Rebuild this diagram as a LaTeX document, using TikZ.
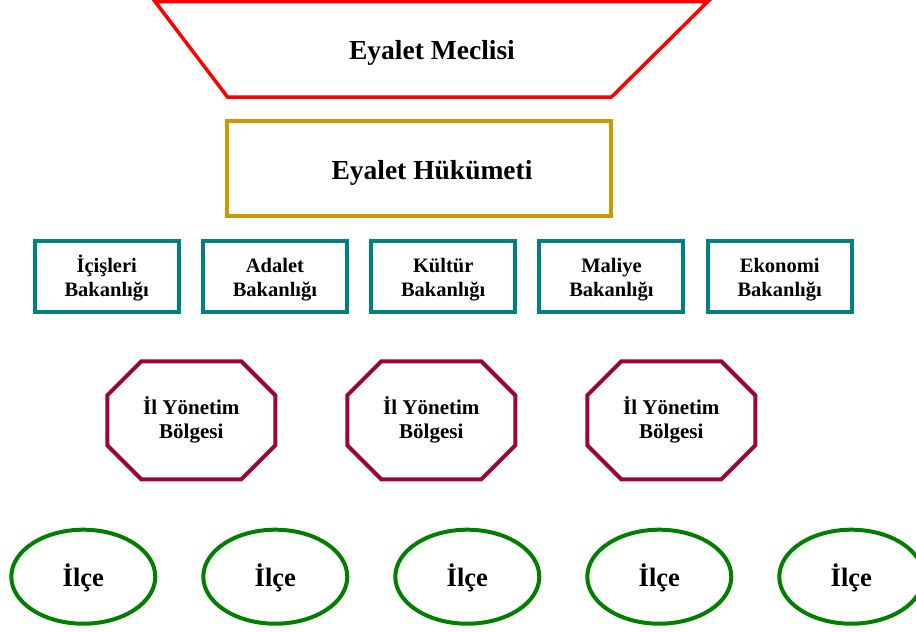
\documentclass[tikz,border=0pt]{standalone}
\usepackage{fontspec}
\setmainfont{Liberation Serif}
\usetikzlibrary{shapes.geometric}
\definecolor{meclisred}{HTML}{FF0000}
\definecolor{hukgold}{HTML}{CC9900}
\definecolor{bakteal}{HTML}{008080}
\definecolor{ilcrimson}{HTML}{A10038}
\definecolor{ilcegreen}{HTML}{008000}
\newcommand{\topstrut}[1]{\rule{0pt}{#1}}
\newcommand{\botstrut}[1]{\rule[-#1]{0pt}{#1}}
\begin{document}
\begin{tikzpicture}[x=1pt,y=-1pt,
  bigtext/.style={font=\bfseries\fontsize{27.5}{30}\selectfont, inner sep=0pt, anchor=base},
  bakbox/.style={draw=bakteal, line width=4pt, rectangle, minimum width=144pt, minimum height=70.7pt, inner sep=0pt, align=center, font=\bfseries\fontsize{20.5}{24}\selectfont},
  oktext/.style={inner sep=0pt, align=center, font=\bfseries\fontsize{21}{24}\selectfont},
  octline/.style={draw=ilcrimson, line width=4pt, line join=miter},
  ilcebox/.style={draw=ilcegreen, line width=4pt, ellipse, minimum width=144pt, minimum height=94pt, inner sep=0pt, font=\bfseries\fontsize{26.5}{30}\selectfont}
]
\useasboundingbox[fill=white] (0,0) rectangle (916,632);

% Eyalet Meclisi (trapezoid)
\coordinate (mTL) at (155,1.5);
\coordinate (mTR) at (708,1.5);
\coordinate (mBR) at (611.5,97);
\coordinate (mBL) at (227.5,97);
\draw[meclisred, line width=3.5pt] (mTL) -- (mTR) -- (mBR) -- (mBL) -- cycle;
\node[bigtext] (meclis) at (432,59.3) {Eyalet Meclisi};

% Eyalet Hukumeti
\node[draw=hukgold, line width=4pt, rectangle, minimum width=384pt, minimum height=95pt, inner sep=0pt] (hukumet) at (419.3,168.5) {};
\node[bigtext] (hukumettext) at (432,179) {Eyalet Hükümeti};

% Bakanliklar
\node[bakbox] (bak1) at (106.7,276.65) {\topstrut{21pt}İçişleri\\Bakanlığı\botstrut{5pt}};
\node[bakbox] (bak2) at (274.95,276.65) {\topstrut{21pt}Adalet\\Bakanlığı\botstrut{5pt}};
\node[bakbox] (bak3) at (443.2,276.65) {\topstrut{21pt}Kültür\\Bakanlığı\botstrut{5pt}};
\node[bakbox] (bak4) at (611.45,276.65) {\topstrut{21pt}Maliye\\Bakanlığı\botstrut{5pt}};
\node[bakbox] (bak5) at (779.7,276.65) {\topstrut{21pt}Ekonomi\\Bakanlığı\botstrut{5pt}};

% Il Yonetim Bolgeleri (octagons)
\foreach \i in {1,2,3}{
  \pgfmathsetmacro{\cx}{191.3+240*(\i-1)}
  \coordinate (oct\i) at (\cx,420.3);
  \draw[octline] (oct\i) ++(-50,-59) -- ++(100,0) -- ++(34,34) -- ++(0,50) -- ++(-34,34) -- ++(-100,0) -- ++(-34,-34) -- ++(0,-50) -- cycle;
  \node[oktext] (ilyon\i) at (oct\i) {\topstrut{19pt}İl Yönetim\\Bölgesi\botstrut{7pt}};
}

% Ilceler
\foreach \i in {1,...,5}{
  \pgfmathsetmacro{\ex}{83.3+192*(\i-1)}
  \node[ilcebox] (ilce\i) at (\ex,576.7) {\topstrut{26pt}İlçe\botstrut{6pt}};
}
\end{tikzpicture}
\end{document}
